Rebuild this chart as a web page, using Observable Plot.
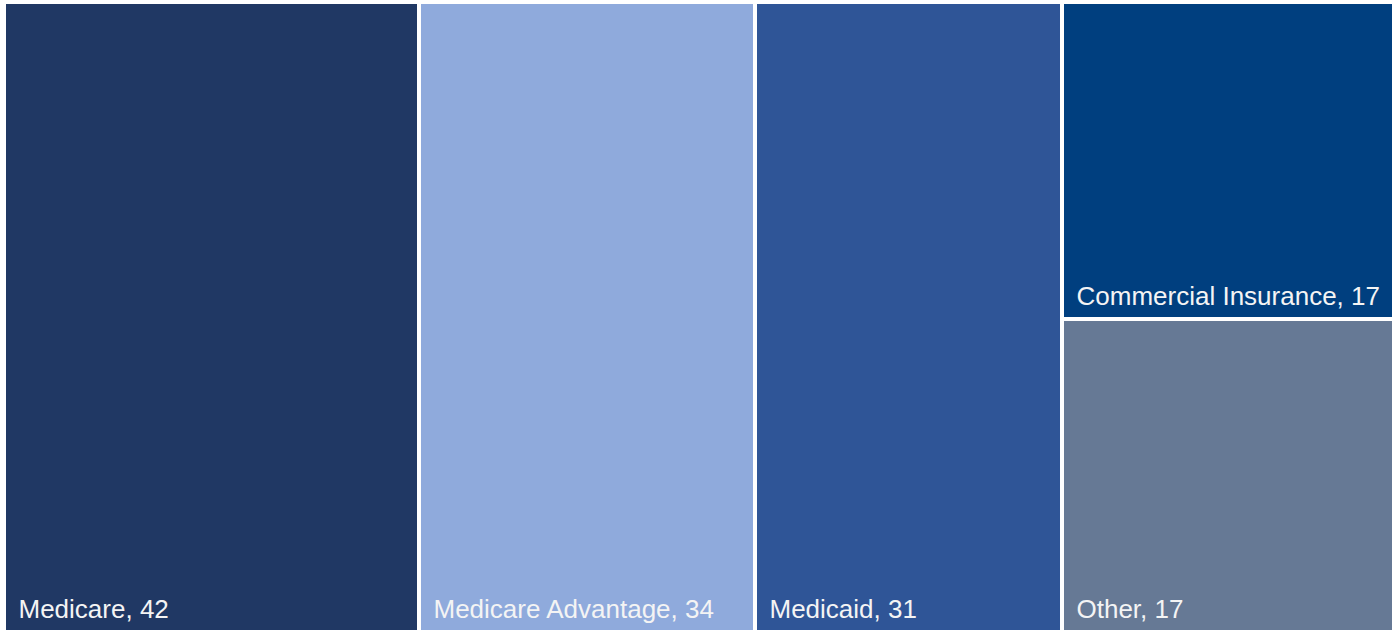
<!DOCTYPE html>
<html>
<head>
<meta charset="utf-8">
<script src="https://cdn.jsdelivr.net/npm/d3@7"></script>
<script src="https://cdn.jsdelivr.net/npm/@observablehq/plot@0.6"></script>
<style>
  html, body { margin: 0; padding: 0; background: #ffffff; }
  #chart svg { display: block; }
</style>
</head>
<body>
<div id="chart"></div>
<script>
const categories = ["Medicare", "Medicare Advantage", "Medicaid", "Commercial Insurance", "Other"];
const values = [42, 34, 31, 17, 17];
const colors = ["#203864", "#8faadc", "#2f5597", "#003f7f", "#667995"];
// the last two categories share one column in the layout
const stackedGroup = ["Commercial Insurance", "Other"];

const W = 1392, H = 631;
const mLeft = 6, mTop = 4, mRight = 0, mBottom = 1;

const items = categories.map((name, i) => ({name, value: values[i], color: colors[i]}));
const rootData = {
  children: [
    ...items.filter(d => !stackedGroup.includes(d.name)),
    {children: items.filter(d => stackedGroup.includes(d.name))}
  ]
};

const root = d3.hierarchy(rootData).sum(d => d.value || 0);

d3.treemap()
  .tile(d3.treemapSliceDice)
  .size([W - mLeft - mRight + 4, H - mTop - mBottom + 4])
  .paddingInner(4)
  .round(true)(root);

const leaves = root.leaves().map(d => ({
  name: d.data.name,
  value: d.data.value,
  color: d.data.color,
  x0: d.x0 + mLeft,
  x1: Math.min(d.x1 + mLeft, W - mRight),
  y0: d.y0 + mTop,
  y1: Math.min(d.y1 + mTop, H - mBottom)
}));

const chart = Plot.plot({
  width: W,
  height: H,
  margin: 0,
  x: {type: "identity", axis: null},
  y: {type: "identity", axis: null},
  marks: [
    Plot.rect(leaves, {x1: "x0", x2: "x1", y1: "y0", y2: "y1", fill: "color"}),
    Plot.text(leaves, {
      x: d => d.x0 + 12,
      y: d => d.y1 - 13,
      text: d => `${d.name}, ${d.value}`,
      fill: "#f4f4f4",
      fontSize: 26,
      fontFamily: "Liberation Sans, Arial, sans-serif",
      textAnchor: "start",
      lineAnchor: "bottom"
    })
  ]
});

document.getElementById("chart").appendChild(chart);
</script>
</body>
</html>
